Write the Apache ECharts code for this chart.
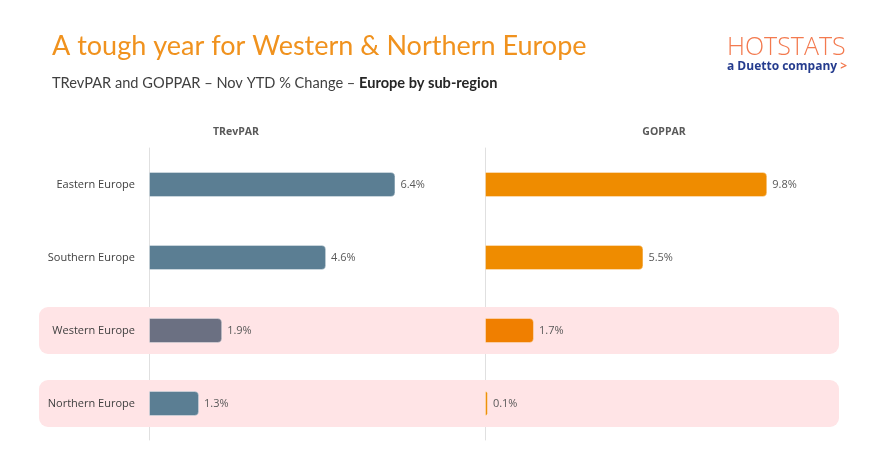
<!DOCTYPE html>
<html>
<head>
<meta charset="utf-8">
<script src="https://cdn.jsdelivr.net/npm/echarts@6/dist/echarts.min.js"></script>
<style>html,body{margin:0;padding:0;background:#fff}#c{width:891px;height:452px}</style>
</head>
<body>
<div id="c"></div>
<script>
const categories = ['Eastern Europe', 'Southern Europe', 'Western Europe', 'Northern Europe'];
const trevpar = [6.4, 4.6, 1.9, 1.3];
const goppar = [9.8, 5.5, 1.7, 0.1];
const highlight = [0, 0, 1, 1];
const trevparColors = ['#5B7E93', '#5B7E93', '#6B7082', '#5B7E93'];
const gopparColors = ['#EF8C00', '#EF8C00', '#F07F00', '#EF8C00'];

const chart = echarts.init(document.getElementById('c'));
const font = 'Open Sans';
const tfont = 'Lato';
const labelCfg = {show: true, position: 'right', distance: 5, fontSize: 11, color: '#595959', fontFamily: font, formatter: p => p.value.toFixed(1) + '%'};

chart.setOption({
  animation: false,
  title: [
    {text: 'A tough year for Western & Northern Europe', left: 47, top: 28, textStyle: {fontFamily: tfont, fontSize: 27, fontWeight: 'normal', color: '#F0921E'}},
    {text: 'TRevPAR and GOPPAR – Nov YTD % Change – {b|Europe by sub-region}', left: 47, top: 71,
      textStyle: {fontFamily: tfont, fontSize: 14.6, fontWeight: 'normal', color: '#404040', rich: {b: {fontFamily: tfont, fontSize: 14.6, fontWeight: 'bold', color: '#262626'}}}},
    {text: 'HOTSTATS', left: 722, top: 30, textStyle: {fontFamily: font, fontSize: 25, fontWeight: 300, color: '#F37A4F'}},
    {text: 'a Duetto company {o|>}', left: 722, top: 56, textStyle: {fontFamily: font, fontSize: 12, fontWeight: 'bold', color: '#253C8E', rich: {o: {fontFamily: font, fontSize: 12, fontWeight: 'bold', color: '#F37A4F'}}}},
    {text: 'TRevPAR', left: 231, top: 122, textAlign: 'center', textStyle: {fontFamily: font, fontSize: 10.5, fontWeight: 'bold', color: '#595959'}},
    {text: 'GOPPAR', left: 659, top: 122, textAlign: 'center', textStyle: {fontFamily: font, fontSize: 10.5, fontWeight: 'bold', color: '#595959'}}
  ],
  grid: [
    {left: 39, top: 148, width: 800, height: 292},
    {left: 149, top: 148, width: 308, height: 292},
    {left: 485, top: 148, width: 288, height: 292}
  ],
  xAxis: [
    {gridIndex: 0, type: 'value', min: 0, max: 1, show: false},
    {gridIndex: 1, type: 'value', min: 0, max: 8, show: false},
    {gridIndex: 2, type: 'value', min: 0, max: 10, show: false}
  ],
  yAxis: [
    {gridIndex: 0, type: 'category', data: categories, inverse: true, show: false},
    {gridIndex: 1, type: 'category', data: categories, inverse: true,
      axisLine: {show: true, lineStyle: {color: '#E0E0E0', width: 1}}, axisTick: {show: false},
      axisLabel: {margin: 14, fontSize: 11, color: '#404040', fontFamily: font}},
    {gridIndex: 2, type: 'category', data: categories, inverse: true,
      axisLine: {show: true, lineStyle: {color: '#E0E0E0', width: 1}}, axisTick: {show: false}, axisLabel: {show: false}}
  ],
  series: [
    {type: 'bar', xAxisIndex: 0, yAxisIndex: 0, data: highlight, barWidth: 47, z: 0, silent: true,
      itemStyle: {color: '#FFE4E6', borderRadius: 9}},
    {type: 'bar', xAxisIndex: 1, yAxisIndex: 1, barWidth: 25, z: 3,
      data: trevpar.map((v, i) => ({value: v, itemStyle: {color: trevparColors[i]}})),
      itemStyle: {borderRadius: [0, 4, 4, 0], borderColor: 'rgba(255,255,255,0.35)', borderWidth: 1}, label: labelCfg},
    {type: 'bar', xAxisIndex: 2, yAxisIndex: 2, barWidth: 25, z: 3,
      data: goppar.map((v, i) => ({value: v, itemStyle: {color: gopparColors[i]}})),
      itemStyle: {borderRadius: [0, 4, 4, 0], borderColor: 'rgba(255,255,255,0.35)', borderWidth: 1}, label: labelCfg}
  ]
});
</script>
</body>
</html>
